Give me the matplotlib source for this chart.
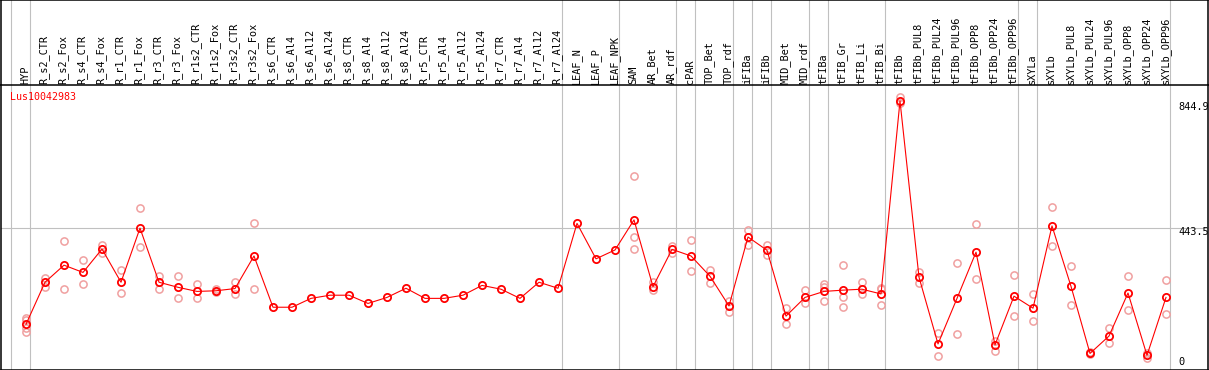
import numpy as np
import matplotlib as mpl
mpl.use('agg')
import matplotlib.pyplot as plt

# sample names, one column each
samples = ['HYP', 'R_s2_CTR', 'R_s2_Fox', 'R_s4_CTR', 'R_s4_Fox', 'R_r1_CTR', 'R_r1_Fox',
           'R_r3_CTR', 'R_r3_Fox', 'R_r1s2_CTR', 'R_r1s2_Fox', 'R_r3s2_CTR', 'R_r3s2_Fox',
           'R_s6_CTR', 'R_s6_Al4', 'R_s6_Al12', 'R_s6_Al24', 'R_s8_CTR', 'R_s8_Al4',
           'R_s8_Al12', 'R_s8_Al24', 'R_r5_CTR', 'R_r5_Al4', 'R_r5_Al12', 'R_r5_Al24',
           'R_r7_CTR', 'R_r7_Al4', 'R_r7_Al12', 'R_r7_Al24', 'LEAF_N', 'LEAF_P', 'LEAF_NPK',
           'SAM', 'AR_Bet', 'AR_rdf', 'cPAR', 'TOP_Bet', 'TOP_rdf', 'iFIBa', 'iFIBb',
           'MID_Bet', 'MID_rdf', 'tFIBa', 'tFIB_Gr', 'tFIB_Li', 'tFIB_Bi', 'tFIBb',
           'tFIBb_PUL8', 'tFIBb_PUL24', 'tFIBb_PUL96', 'tFIBb_OPP8', 'tFIBb_OPP24',
           'tFIBb_OPP96', 'sXYLa', 'sXYLb', 'sXYLb_PUL8', 'sXYLb_PUL24', 'sXYLb_PUL96',
           'sXYLb_OPP8', 'sXYLb_OPP24', 'sXYLb_OPP96']

# mean expression per sample
means = [139, 272, 326, 303, 377, 272, 443, 272, 256, 243, 245, 252, 355,
         193, 193, 221, 231, 231, 205, 224, 253, 221, 221, 231, 262, 250, 221, 272, 253,
         458, 346, 374, 469, 258, 376, 355, 291, 197, 415, 373, 165, 224,
         243, 247, 250, 235, 844.9, 288, 77, 221, 367, 74, 228,
         190, 450, 259, 47, 102, 238, 41, 224]

# replicate values per sample (empty where only the mean is shown)
reps = [[158, 153, 126, 116], [286, 256], [402, 250], [341, 266], [390, 364],
        [310, 237], [506, 382], [291, 252], [291, 221], [266, 221], [251, 240],
        [272, 234], [458, 250],
        [], [], [], [], [], [], [], [], [], [], [], [], [], [], [], [],
        [], [], [],
        [607, 415, 377], [273, 248], [387, 365], [405, 307], [310, 271], [214, 179],
        [436, 390], [390, 358], [190, 139], [247, 205], [266, 258, 213], [327, 224, 193],
        [272, 234], [255, 250, 200], [857, 838], [304, 271], [111, 40], [333, 108],
        [455, 281], [87, 56], [295, 164], [235, 150], [510, 386], [323, 200],
        [51, 44], [127, 80], [292, 184], [47, 32], [278, 172]]

# column index after which a grey separator is drawn
group_ends = [-1, 0, 28, 31, 34, 35, 37, 38, 39, 41, 42, 45, 52, 53, 60]
ref_value = 443.5
gene = 'Lus10042983'

W, H = 1209, 370
x0, dx = 26, 19            # pixel of first column, column pitch
y_zero, px_per_unit = 368.3, 0.3164
L, R, top_sep, bottom = 1, 1207.5, 85, 369.5
gray = '#c0c0c0'
mono = 'DejaVu Sans Mono'

xmin, xmax = (L - x0) / dx, (R - x0) / dx
ymin = (y_zero - bottom) / px_per_unit
ymax = (y_zero - top_sep) / px_per_unit

fig = plt.figure(figsize=(W / 100, H / 100), dpi=100)

# header with sample names
axh = fig.add_axes([L / W, (H - top_sep) / H, (R - L) / W, top_sep / H])
axh.set_xlim(xmin, xmax)
axh.set_ylim(top_sep, 0)
axh.set_xticks([])
axh.set_yticks([])
for s in axh.spines.values():
    s.set_linewidth(1.1)
axh.spines['bottom'].set_visible(False)
for g in group_ends:
    axh.axvline(g + 0.21, color=gray, lw=0.8, zorder=0)
for i, name in enumerate(samples):
    axh.text(i - 0.05, top_sep - 1, name, rotation=90, ha='center', va='bottom',
             fontsize=7.4, family=mono, color='black')

# data panel
ax = fig.add_axes([L / W, (H - bottom) / H, (R - L) / W, (bottom - top_sep) / H])
ax.set_xlim(xmin, xmax)
ax.set_ylim(ymin, ymax)
ax.set_xticks([])
ax.set_yticks([])
for s in ax.spines.values():
    s.set_linewidth(1.1)
for g in group_ends:
    ax.axvline(g + 0.21, color=gray, lw=0.8, zorder=0)
ax.axhline(ref_value, color=gray, lw=0.8, zorder=0)

x = np.arange(len(samples))
rx = [i for i, r in enumerate(reps) for v in r]
ry = [v for r in reps for v in r]
ax.plot(rx, ry, 'o', ms=5.2, mfc='none', mec='#f0a0a0', mew=1.1, zorder=2)
ax.plot(x, means, '-', color='red', lw=0.8, zorder=3)
ax.plot(x, means, 'o', ms=5.2, mfc='none', mec='red', mew=1.3, zorder=4)

ax.text(-0.84, ymax - 12 / px_per_unit, gene, color='red', fontsize=7.2, family=mono,
        ha='left', va='center')

lab_x = (1178 - x0) / dx
for val, off in [(max(means), -6), (ref_value, -4), (0, 6)]:
    ax.annotate('%g' % val, (lab_x, val), xytext=(0, off), textcoords='offset pixels',
                fontsize=7.4, family=mono, ha='left', va='center', annotation_clip=False)

plt.savefig('out.png', dpi=100)
